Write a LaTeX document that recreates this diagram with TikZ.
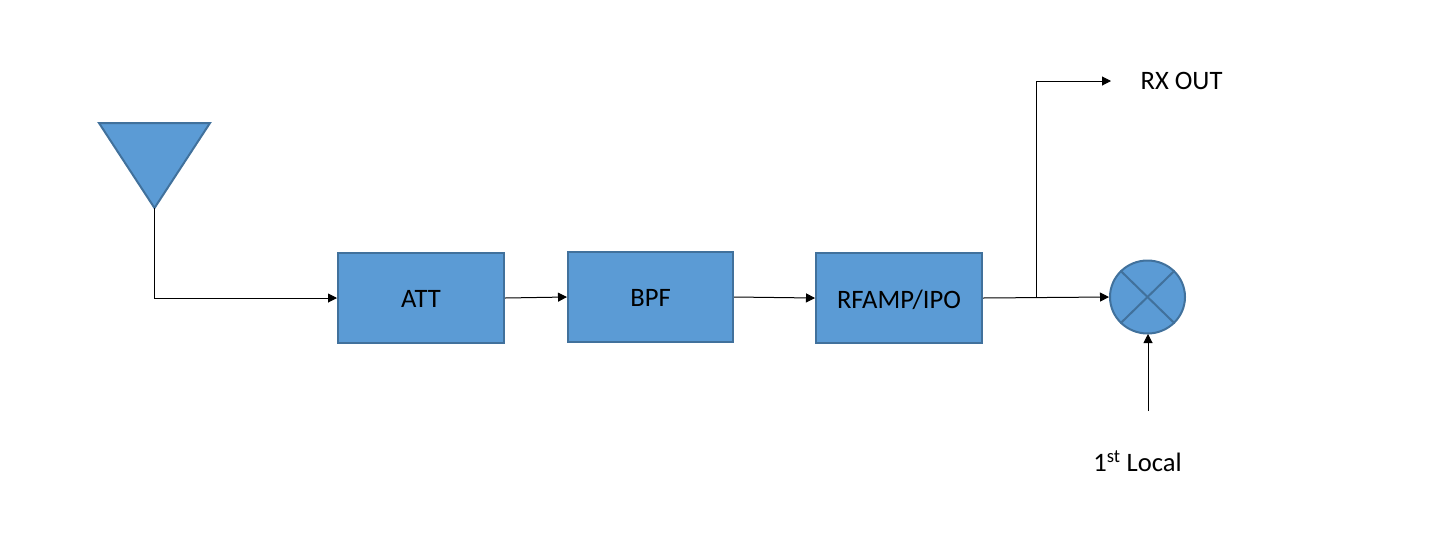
\documentclass[tikz,border=0pt]{standalone}
\usepackage{fontspec}
\setmainfont{Carlito}
\usetikzlibrary{arrows.meta,shapes.geometric}
\definecolor{blockfill}{HTML}{5B9BD5}
\definecolor{blockline}{HTML}{41719C}
\tikzset{
  x=1pt,y=-1pt,
  block/.style={draw=blockline,fill=blockfill,line width=2pt,minimum width=166pt,minimum height=90pt,inner sep=0pt,text depth=0pt,font=\fontsize{26.6}{30}\selectfont,text=black},
  lab/.style={inner sep=0pt,font=\fontsize{26.6}{30}\selectfont,text=black},
  wire/.style={draw=black,line width=1pt},
  arrow/.style={wire,-{Triangle[length=9pt,width=9pt]}},
  xline/.style={draw=blockline,line width=2pt}
}
\begin{document}
\begin{tikzpicture}
\useasboundingbox (0,0) rectangle (1440,550);
\node[block] (att) at (421,298) {\raisebox{-2pt}{ATT}};
\node[block,minimum width=165pt] (bpf) at (650.5,297) {\raisebox{-1pt}{BPF}};
\node[block] (rf) at (899,298) {\raisebox{-2pt}{RFAMP/IPO}};
\node[ellipse,draw=blockline,fill=blockfill,line width=2pt,minimum width=75pt,minimum height=73pt,inner sep=0pt] (mix) at (1147.5,297) {};
\coordinate (tl) at (99,123);
\coordinate (tr) at (210,123);
\coordinate (tip) at (154.5,208);
\filldraw[draw=blockline,fill=blockfill,line width=2pt,line join=miter] (tl) -- (tr) -- (tip) -- cycle;
\draw[xline] (mix.north west) -- (mix.south east);
\draw[xline] (mix.north east) -- (mix.south west);
\node[lab] (rx) at (1181.5,81) {RX OUT};
\node[lab] (lo) at (1137.5,461) {1\textsuperscript{st} Local};
\coordinate (rxend) at (1111,81);
\coordinate (lostart) at (1148,411);
\coordinate (loend) at (1148,334);
\coordinate (branch) at (1036.5,297.6);
\draw[arrow] (tip) |- (att.west);
\draw[arrow] (att.east) -- (bpf.west);
\draw[arrow] (bpf.east) -- (rf.west);
\draw[arrow] (rf.east) -- (mix.west);
\draw[arrow] (branch) |- (rxend);
\draw[arrow] (lostart) -- (loend);
\end{tikzpicture}
\end{document}
